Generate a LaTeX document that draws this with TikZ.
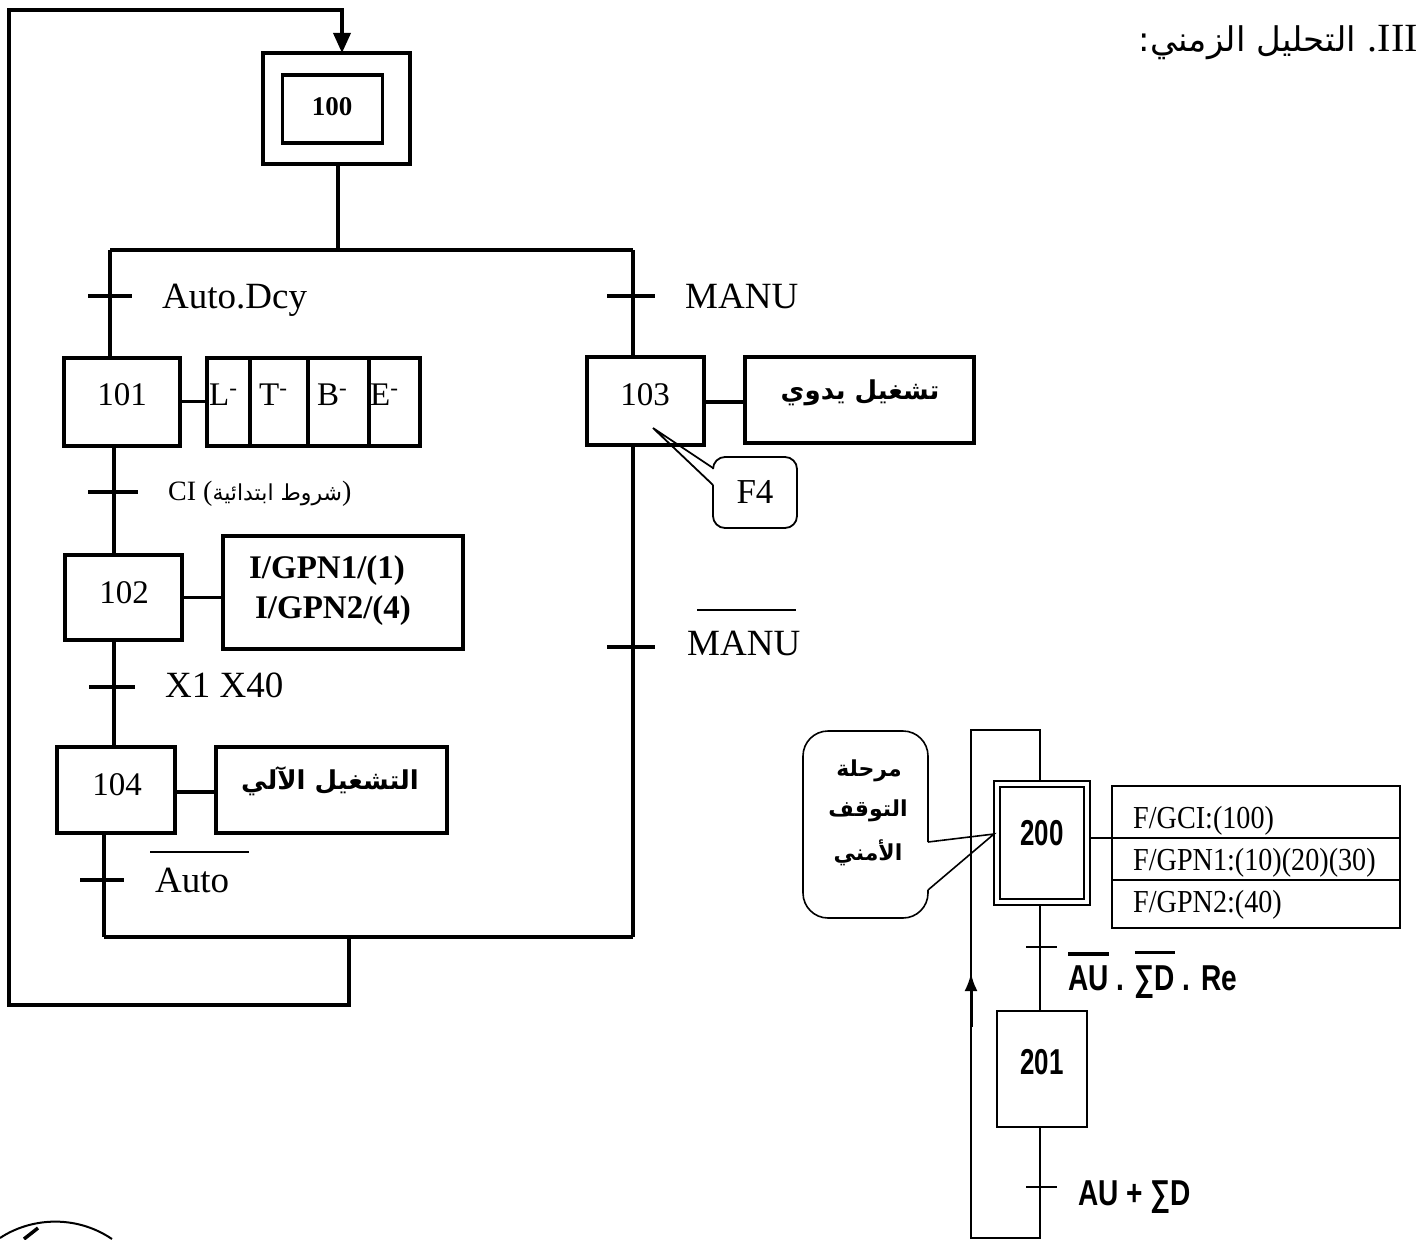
\documentclass[tikz,border=0pt]{standalone}
\usepackage{fontspec}
\usepackage{graphicx}
\setmainfont{Liberation Serif}
\newfontfamily\arabicfont[Script=Arabic]{DejaVu Sans}
\newfontfamily\arialf{Liberation Sans}
\TeXXeTstate=1
\usetikzlibrary{arrows.meta}
\newcommand\myovl[2]{\begingroup\setbox0\hbox{#2}\rlap{\rule[#1]{\wd0}{3.5pt}}\box0\endgroup}
\tikzset{
 gl/.style={line width=3.6pt},
 sbox/.style={draw,line width=4pt,inner sep=0pt,outer sep=0pt},
 tbox/.style={draw,line width=1.6pt,inner sep=0pt,outer sep=0pt},
 tn/.style={line width=1.6pt},
 lbl/.style={anchor=base west,inner sep=0pt,font=\fontsize{37}{40}\selectfont},
 num/.style={anchor=base,inner sep=0pt,font=\fontsize{33}{36}\selectfont},
 arb/.style={inner sep=0pt,font=\arabicfont\bfseries\fontsize{26}{30}\selectfont},
 sansn/.style={anchor=base,inner sep=0pt,font=\arialf\bfseries\fontsize{36}{40}\selectfont},
 sansl/.style={anchor=base west,inner sep=0pt,font=\arialf\bfseries\fontsize{36}{40}\selectfont},
 tabt/.style={anchor=base west,inner sep=0pt,font=\fontsize{32}{34}\selectfont},
}
\begin{document}
\begin{tikzpicture}[x=1pt,y=-1pt]
\useasboundingbox (0,0) rectangle (1420,1239);

% ---------- title ----------
\node[anchor=base east,inner sep=0pt,font=\fontsize{40}{44}\selectfont] (title) at (1418,52)
  {{\arabicfont\fontsize{34}{38}\selectfont :\beginR التحليل الزمني\endR}\hspace{12pt}.III};

% ---------- initial step 100 ----------
\node[sbox,minimum width=147pt,minimum height=111pt] (s100o) at (336.5,108.5) {};
\node[sbox,line width=3.5pt,minimum width=100pt,minimum height=68pt] (s100i) at (332.5,109) {};
\node[num,font=\bfseries\fontsize{27}{30}\selectfont] (t100) at (332,115) {100};

\coordinate (dl) at (110,250);
\coordinate (dr) at (633,250);
\draw[gl] (338,164) -- (338,250);
\draw[gl] (dl) -- (dr);

% ---------- left branch ----------
\node[sbox,minimum width=116pt,minimum height=88pt] (s101) at (122,401.5) {};
\node[num] (t101) at (122,405) {101};
\node[sbox,minimum width=213pt,minimum height=88pt] (a101) at (313.5,401.5) {};
\foreach \xx in {250,308,369}{\draw[line width=4pt] (\xx,357.5) -- (\xx,445.5);}
\node[lbl,font=\fontsize{33}{36}\selectfont] (aL) at (209,405) {L\textsuperscript{-}};
\node[lbl,font=\fontsize{33}{36}\selectfont] (aT) at (259,405) {T\textsuperscript{-}};
\node[lbl,font=\fontsize{33}{36}\selectfont] (aB) at (317,405) {B\textsuperscript{-}};
\node[lbl,font=\fontsize{33}{36}\selectfont] (aE) at (370,405) {E\textsuperscript{-}};
\draw[gl] (s101.east) -- (a101.west);

\draw[gl] (dl) -- (dl |- s101.north);
\draw[gl] (88,296) -- (132,296);
\node[lbl] (l1) at (162,308) {Auto.Dcy};

\node[sbox,minimum width=117pt,minimum height=85pt] (s102) at (123,597.5) {};
\node[num] (t102) at (124,603) {102};
\node[sbox,minimum width=240pt,minimum height=113pt] (a102) at (343,592) {};
\node[anchor=base,inner sep=0pt,font=\bfseries\fontsize{33}{36}\selectfont] (g1) at (327,578) {I/GPN1/(1)};
\node[anchor=base,inner sep=0pt,font=\bfseries\fontsize{33}{36}\selectfont] (g2) at (333,618) {I/GPN2/(4)};
\draw[gl] (s102.east) -- (s102.east -| a102.west);

\draw[gl] (114,445.5) -- (114,555);
\draw[gl] (88,492) -- (138,492);
\node[lbl,font=\fontsize{28}{30}\selectfont] (l2) at (168,500)
  {CI ({\arabicfont\fontsize{22}{26}\selectfont\beginR شروط ابتدائية\endR})};

\node[sbox,minimum width=118pt,minimum height=86pt] (s104) at (116,790) {};
\node[num] (t104) at (117,795) {104};
\node[sbox,minimum width=231pt,minimum height=86pt] (a104) at (331,790) {};
\node[arb] (x104) at (330,781) {\beginR التشغيل الآلي\endR};
\draw[gl] (s104.east |- 0,792) -- (a104.west |- 0,792);

\draw[gl] (114,640) -- (114,747);
\draw[gl] (89,687) -- (135,687);
\node[lbl] (l3) at (165,697) {X1 X40};

\draw[gl] (104,833) -- (104,937);
\draw[gl] (80,880) -- (124,880);
\draw[line width=2.8pt] (150,852) -- (249,852);
\node[lbl] (l4) at (155,892) {Auto};

% ---------- right branch ----------
\draw[gl] (dr) -- (dr |- 0,357);
\draw[gl] (607,296) -- (655,296);
\node[lbl] (l5) at (685,308) {MANU};

\node[sbox,minimum width=117pt,minimum height=88pt] (s103) at (645,401) {};
\node[num] (t103) at (645,405) {103};
\node[sbox,minimum width=229pt,minimum height=86pt] (a103) at (859.5,400) {};
\node[arb] (x103) at (860,393) {\beginR تشغيل يدوي\endR};
\draw[gl] (s103.east |- 0,402) -- (a103.west |- 0,402);

\draw[gl] (633,445) -- (633,937);
\draw[gl] (607,647) -- (655,647);
\draw[line width=2.8pt] (697,610) -- (796,610);
\node[lbl] (l6) at (687,655) {MANU};

% F4 callout
\node[inner sep=0pt,anchor=base,font=\fontsize{35}{38}\selectfont] (f4) at (755,503) {F4};
\draw[line width=1.8pt,rounded corners=12pt] (713,468) -- (713,457) -- (797,457) -- (797,528) -- (713,528) -- (713,485);
\draw[line width=1.8pt] (713,468) -- (653,428) -- (713,485);

% ---------- junction and loop ----------
\draw[gl] (104,937) -- (633,937);
\draw[gl,-{Triangle[length=20pt,width=17pt]}] (349,937) -- (349,1005) -- (9,1005) -- (9,10) -- (342,10) -- (342,53);

% ---------- lower right grafcet ----------
\draw[tn] (971,1239) -- (971,730) -- (1040,730) -- (1040,781);
\node[draw,line width=2.4pt,inner sep=0pt,outer sep=0pt,minimum width=96pt,minimum height=124pt] (s200o) at (1042,843) {};
\node[tbox,minimum width=84pt,minimum height=112pt] (s200i) at (1042,843) {};
\node[sansn] (t200) at (1042,845) {\scalebox{0.72}[1]{200}};

\node[tbox,minimum width=288pt,minimum height=142pt] (tab) at (1256,857) {};
\draw[tn] (s200o.east |- 0,838) -- (tab.east |- 0,838);
\draw[tn] (tab.west |- 0,880) -- (tab.east |- 0,880);
\node[tabt] (r1) at (1133,828) {\scalebox{0.88}[1]{F/GCI:(100)}};
\node[tabt] (r2) at (1133,870) {\scalebox{0.88}[1]{F/GPN1:(10)(20)(30)}};
\node[tabt] (r3) at (1133,912) {\scalebox{0.88}[1]{F/GPN2:(40)}};

% callout of 200
\draw[tn,rounded corners=25pt] (928,842) -- (928,731) -- (803,731) -- (803,918) -- (928,918) -- (928,890);
\draw[tn] (928,842) -- (994,834) -- (928,890);
\node[arb,font=\arabicfont\bfseries\fontsize{22}{26}\selectfont] (m1) at (869,771) {\beginR مرحلة\endR};
\node[arb,font=\arabicfont\bfseries\fontsize{22}{26}\selectfont] (m2) at (868,811) {\beginR التوقف\endR};
\node[arb,font=\arabicfont\bfseries\fontsize{22}{26}\selectfont] (m3) at (868,853) {\beginR الأمني\endR};

\draw[tn] (1040,905) -- (1040,1011);
\draw[tn] (1026,947) -- (1057,947);
\node[sansl] (c1) at (1068,990) {\scalebox{0.78}[1]{\myovl{0.95em}{AU} . \myovl{1.0em}{∑D} . Re}};

\node[tbox,minimum width=90pt,minimum height=116pt] (s201) at (1042,1069) {};
\node[sansn] (t201) at (1042,1074) {\scalebox{0.72}[1]{201}};

\draw[tn] (1040,1127) -- (1040,1239);
\draw[tn] (1026,1187) -- (1057,1187);
\node[sansl] (c2) at (1078,1205) {\scalebox{0.78}[1]{AU + ∑D}};
\draw[tn] (971,1238) -- (1040,1238);
\draw[line width=3pt,-{Latex[length=18pt,width=13pt]}] (971,1027) -- (971,973);

% ---------- partial stamp at bottom left ----------
\draw[line width=2pt] (0,1238) .. controls (30,1218) and (75,1214) .. (112,1239);
\draw[line width=3.5pt] (24,1239) -- (38,1228);
\end{tikzpicture}
\end{document}
